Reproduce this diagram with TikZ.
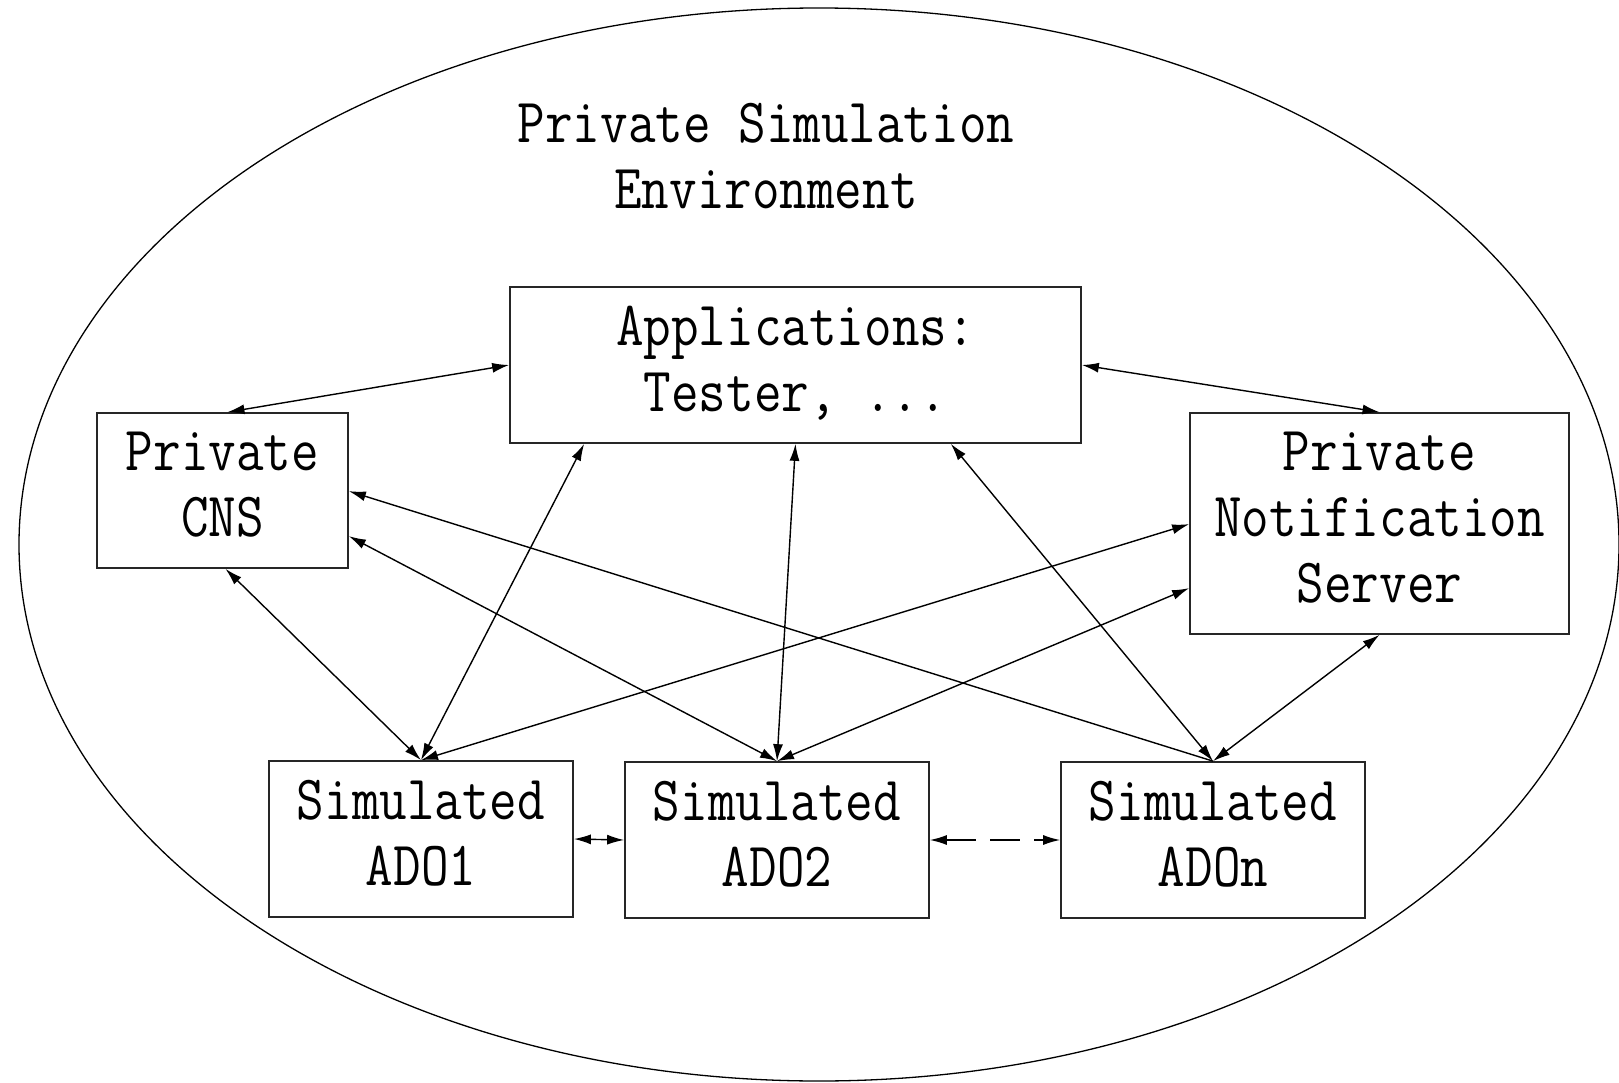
\documentclass[tikz,border=0pt]{standalone}
\usepackage{graphicx}
\usetikzlibrary{arrows.meta,calc}
% condensed, centred multi-line label
\newcommand\mlines[1]{\scalebox{0.85}[1]{\begin{tabular}{@{}c@{}}#1\end{tabular}}}
\begin{document}
\begin{tikzpicture}[x=1pt,y=-1pt,
  lbl/.style={font=\fontsize{63}{66}\selectfont\ttfamily, inner sep=0pt},
  unit/.style={lbl, rectangle, draw=black!85, line width=1.7pt,
               minimum height=156pt, minimum width=304pt},
  link/.style={line width=1.4pt, {Latex[length=17pt,width=10pt]}-{Latex[length=17pt,width=10pt]}},
  back/.style={line width=1.4pt, {Latex[length=17pt,width=10pt]}-}
]
\useasboundingbox (0,0) rectangle (1619,1083);
\fill[white] (0,0) rectangle (1619,1083);

% environment boundary
\draw[line width=1.3pt] (819,544.5) ellipse [x radius=800, y radius=536.5];
\node[lbl] (title) at (766,162) {\mlines{Private Simulation\\Environment}};

% components
\node[unit, minimum width=571pt] (apps) at (795.5,365) {\mlines{Applications:\\Tester, ...}};
\node[unit, minimum width=251pt, minimum height=155pt] (cns) at (222.5,490.5) {\mlines{Private\\CNS}};
\node[unit, minimum width=379pt, minimum height=221pt] (pns) at (1379.5,523.5) {\mlines{Private\\Notification\\Server}};
\node[unit] (ad1) at (421,839) {\mlines{Simulated\\ADO1}};
\node[unit] (ad2) at (777,840) {\mlines{Simulated\\ADO2}};
\node[unit] (adn) at (1213,840) {\mlines{Simulated\\ADOn}};

% connections
\draw[link] ([xshift=5pt]cns.north) -- (apps.west);
\draw[link] (apps.east) -- (pns.north);
\draw[link] ([xshift=3pt]cns.south) -- (ad1.north);
\draw[link] ($(apps.south west)+(75,0)$) -- (ad1.north);
\draw[link] (apps.south) -- (ad2.north);
\draw[link] ($(apps.south east)+(-131,0)$) -- (adn.north);
\draw[back] ($(cns.north east)+(0,79)$) -- (adn.north);
\draw[link] ($(cns.north east)+(0,124)$) -- (ad2.north);
\draw[link] ($(pns.north west)+(0,112)$) -- (ad1.north);
\draw[link] ($(pns.north west)+(0,176)$) -- (ad2.north);
\draw[link] (pns.south) -- (adn.north);
\draw[link] (ad1.east) -- (ad2.west);
\draw[link, dash pattern=on 30pt off 14pt] (ad2.east) -- (adn.west);
\end{tikzpicture}
\end{document}
